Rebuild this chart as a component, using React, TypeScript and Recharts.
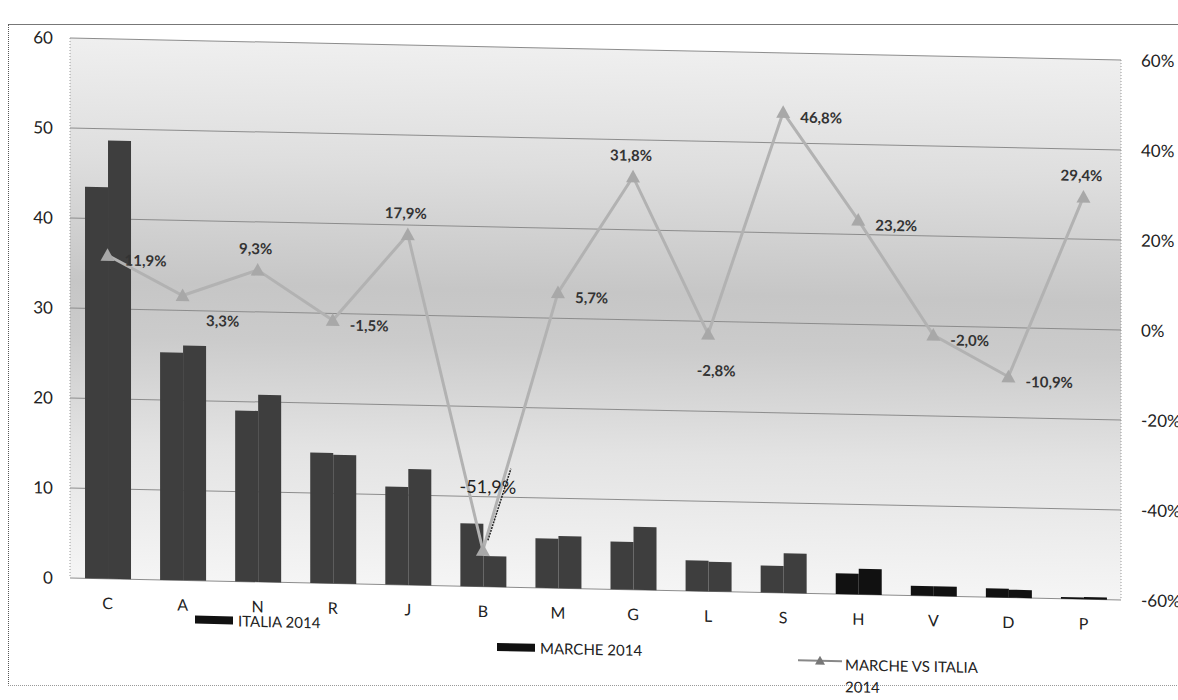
import React from "react";
import {
  ComposedChart,
  Bar,
  Line,
  XAxis,
  YAxis,
  CartesianGrid,
  LabelList,
  Cell,
} from "recharts";

const categories = ["C", "A", "N", "R", "J", "B", "M", "G", "L", "S", "H", "V", "D", "P"];
const italia2014 = [43.5, 25.3, 19.0, 14.5, 10.9, 7.0, 5.5, 5.3, 3.4, 3.0, 2.3, 1.1, 1.0, 0.2];
const marche2014 = [48.7, 26.1, 20.8, 14.3, 12.9, 3.4, 5.8, 7.0, 3.3, 4.4, 2.85, 1.08, 0.89, 0.26];
const marcheVsItalia = [0.119, 0.033, 0.093, -0.015, 0.179, -0.519, 0.057, 0.318, -0.028, 0.468, 0.232, -0.02, -0.109, 0.294];
const leftTicks = [0, 10, 20, 30, 40, 50, 60];
const rightTicks = [-0.6, -0.4, -0.2, 0, 0.2, 0.4, 0.6];

// where each data label sits relative to its marker
const labelPlacement = ["right", "belowRight", "above", "right", "above", "leader", "right", "above", "below", "right", "right", "right", "right", "above"];
const blackCategories = ["H", "V", "D", "P"];

const data = categories.map((cat, i) => ({
  cat,
  italia: italia2014[i],
  marche: marche2014[i],
  ratio: marcheVsItalia[i],
}));

const FONT = "Lato, 'Open Sans', sans-serif";
const BAR_GRAY = "#3e3e3e";

const formatPct = (v: number) => (v * 100).toFixed(1).replace(".", ",") + "%";
const formatAxisPct = (v: number) => Math.round(v * 100) + "%";

const TriangleDot = (props: any) => {
  const { cx, cy } = props;
  if (cx == null || cy == null) return null;
  const s = 7;
  return (
    <path
      d={`M${cx},${cy - s} L${cx + s},${cy + s * 0.8} L${cx - s},${cy + s * 0.8} Z`}
      fill="#a8a8a8"
    />
  );
};

const renderPctLabel = (props: any) => {
  const { x, y, value } = props;
  let index = props.index;
  if (index == null) index = marcheVsItalia.indexOf(value);
  const place = labelPlacement[index] ?? "right";
  const text = formatPct(value);
  const common = {
    fontFamily: FONT,
    fontWeight: 700,
    fontSize: 15,
    fill: "#333",
    dominantBaseline: "central" as const,
  };
  if (place === "right") {
    return <text x={x + 17} y={y + 4} textAnchor="start" {...common}>{text}</text>;
  }
  if (place === "above") {
    return <text x={x - 2} y={y - 22} textAnchor="middle" {...common}>{text}</text>;
  }
  if (place === "below") {
    return <text x={x + 8} y={y + 36} textAnchor="middle" {...common}>{text}</text>;
  }
  if (place === "belowRight") {
    return <text x={x + 40} y={y + 24} textAnchor="middle" {...common}>{text}</text>;
  }
  // leader line label
  return (
    <g>
      <line x1={x + 5} y1={y - 10} x2={x + 28} y2={y - 82} stroke="#222" strokeWidth={1.5} strokeDasharray="2 1" />
      <text x={x + 5} y={y - 64} textAnchor="middle" {...common} fontWeight={400} fontSize={18} fill="#222">
        {text}
      </text>
    </g>
  );
};

const legendText: React.CSSProperties = {
  position: "absolute",
  fontFamily: FONT,
  fontSize: 15,
  color: "#222",
  lineHeight: "20px",
  whiteSpace: "nowrap",
};

export default function App() {
  return (
    <div
      style={{
        position: "absolute",
        left: 0,
        top: 0,
        width: 1178,
        height: 700,
        overflow: "hidden",
        background: "#fff",
      }}
    >
      <div
        style={{
          position: "absolute",
          left: 8,
          top: 24,
          width: 1200,
          height: 660,
          borderTop: "1px solid #777",
          borderLeft: "1px dotted #555",
          borderBottom: "1px dotted #999",
        }}
      />
      <div
        style={{
          position: "absolute",
          left: 0,
          top: 0,
          width: 1178,
          height: 700,
          transform: "skewY(1.2deg)",
          transformOrigin: "70px 578px",
        }}
      >
        <ComposedChart
          width={1178}
          height={700}
          data={data}
          margin={{ top: 38, right: 7, bottom: 92, left: 20 }}
          barCategoryGap="20%"
          barGap={0}
        >
          <defs>
            <linearGradient id="plotBg" x1="0" y1="0" x2="0" y2="1">
              <stop offset="0%" stopColor="#efefef" />
              <stop offset="22%" stopColor="#dedede" />
              <stop offset="45%" stopColor="#c6c6c6" />
              <stop offset="55%" stopColor="#cbcbcb" />
              <stop offset="75%" stopColor="#e3e3e3" />
              <stop offset="100%" stopColor="#f5f5f5" />
            </linearGradient>
          </defs>
          <CartesianGrid
            yAxisId="left"
            vertical={false}
            stroke="#8c8c8c"
            fill="url(#plotBg)"
            fillOpacity={1}
          />
          <XAxis
            dataKey="cat"
            axisLine={false}
            tickLine={false}
            height={30}
            tickMargin={13}
            tick={{ fontFamily: FONT, fontSize: 16, fill: "#222" }}
          />
          <YAxis
            yAxisId="left"
            domain={[0, 60]}
            ticks={leftTicks}
            width={50}
            axisLine={{ stroke: "#999", strokeDasharray: "1 2" }}
            tickLine={false}
            tickMargin={11}
            tick={{ fontFamily: FONT, fontSize: 17, fill: "#222" }}
          />
          <YAxis
            yAxisId="right"
            orientation="right"
            domain={[-0.6, 0.6]}
            ticks={rightTicks}
            tickFormatter={formatAxisPct}
            width={50}
            axisLine={{ stroke: "#999", strokeDasharray: "1 2" }}
            tickLine={false}
            tickMargin={14}
            tick={{ fontFamily: FONT, fontSize: 17, fill: "#222" }}
          />
          <Bar yAxisId="left" dataKey="italia" fill={BAR_GRAY} isAnimationActive={false}>
            {categories.map((c) => (
              <Cell key={c} fill={blackCategories.includes(c) ? "#111" : BAR_GRAY} />
            ))}
          </Bar>
          <Bar yAxisId="left" dataKey="marche" fill={BAR_GRAY} isAnimationActive={false}>
            {categories.map((c) => (
              <Cell key={c} fill={blackCategories.includes(c) ? "#111" : BAR_GRAY} />
            ))}
          </Bar>
          <Line
            yAxisId="right"
            dataKey="ratio"
            stroke="#b2b2b2"
            strokeWidth={3}
            dot={<TriangleDot />}
            activeDot={false}
            isAnimationActive={false}
          >
            <LabelList dataKey="ratio" content={renderPctLabel} />
          </Line>
        </ComposedChart>

        {/* legend */}
        <div style={{ position: "absolute", left: 195, top: 613, width: 38, height: 8, background: "#111" }} />
        <div style={{ ...legendText, left: 238, top: 607 }}>ITALIA 2014</div>
        <div style={{ position: "absolute", left: 497, top: 634, width: 38, height: 8, background: "#111" }} />
        <div style={{ ...legendText, left: 540, top: 628 }}>MARCHE 2014</div>
        <svg style={{ position: "absolute", left: 798, top: 638 }} width={44} height={14}>
          <line x1={0} y1={7} x2={44} y2={7} stroke="#888" strokeWidth={2} />
          <path d="M22,2 L27,11 L17,11 Z" fill="#777" />
        </svg>
        <div style={{ ...legendText, left: 845, top: 638 }}>MARCHE VS ITALIA</div>
        <div style={{ ...legendText, left: 845, top: 660 }}>2014</div>
      </div>
    </div>
  );
}
